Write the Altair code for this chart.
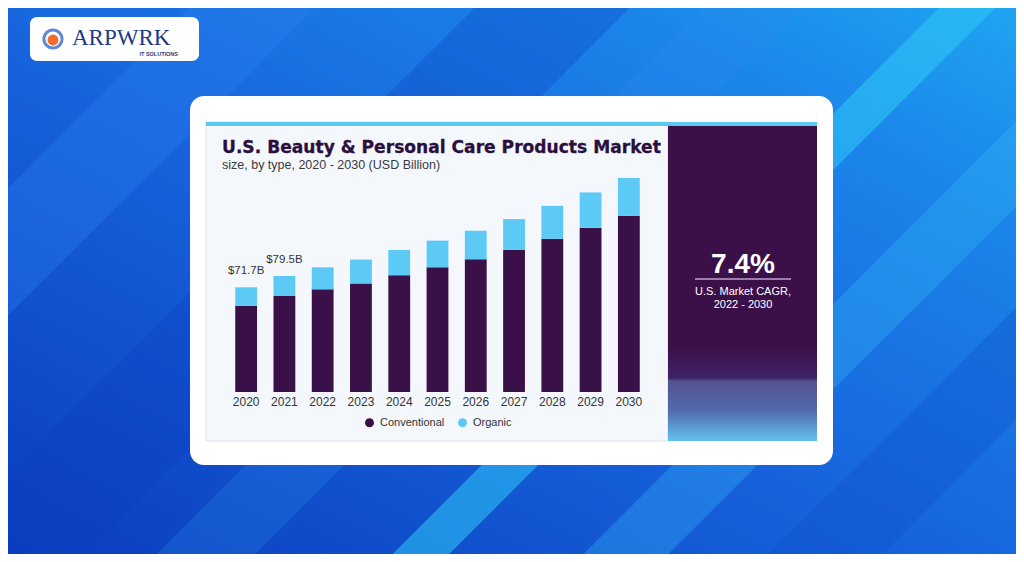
import altair as alt
import pandas as pd

# ---- data ----
years = ["2020", "2021", "2022", "2023", "2024", "2025", "2026", "2027", "2028", "2029", "2030"]
conventional = [59.1, 65.7, 70.3, 74.4, 80.0, 85.4, 90.9, 97.3, 104.9, 112.4, 120.7]
organic = [12.6, 13.8, 15.1, 16.3, 17.3, 18.3, 19.5, 21.1, 22.6, 24.3, 25.9]
labelled_years = ["2020", "2021"]
series_names = ["Conventional", "Organic"]
series_colors = ["#3a1048", "#5ccaf5"]

title_text = "U.S. Beauty & Personal Care Products Market"
subtitle_text = "size, by type, 2020 - 2030 (USD Billion)"
cagr_value = "7.4%"
cagr_lines = ["U.S. Market CAGR,", "2022 - 2030"]

rows = []
for y, c, o in zip(years, conventional, organic):
    rows.append({"year": y, "type": "Conventional", "value": c, "order": 0})
    rows.append({"year": y, "type": "Organic", "value": o, "order": 1})
df = pd.DataFrame(rows)

totals = pd.DataFrame({"year": years,
                       "total": [round(c + o, 1) for c, o in zip(conventional, organic)]})
totals["label"] = totals["total"].map(lambda t: f"${t:.1f}B")
totals = totals[totals["year"].isin(labelled_years)]

one = alt.Data(values=[{}])

W, H = 421, 219
PADL, PADT = 219, 165


def px(X):  # page x -> plot x
    return X - 8 - PADL


def py(Y):  # page y -> plot y
    return Y - 8 - PADT


def rect(x1, y1, x2, y2, color, **kw):
    return alt.Chart(one).mark_rect(color=color, **kw).encode(
        x=alt.value(px(x1)), x2=alt.value(px(x2)),
        y=alt.value(py(y1)), y2=alt.value(py(y2)))


def txt(X, Y, s, **kw):
    return alt.Chart(one).mark_text(**kw).encode(
        x=alt.value(px(X)), y=alt.value(py(Y)), text=alt.value(s))


def stripe(c, width, color, opacity):
    # 45-degree band along X + Y = c
    return alt.Chart(one).mark_rule(color=color, strokeWidth=width, opacity=opacity,
                                    strokeCap="butt").encode(
        x=alt.value(px(c - 700)), y=alt.value(py(700)),
        x2=alt.value(px(c + 100)), y2=alt.value(py(-100)))


bg = rect(0, 0, 1024, 562, alt.LinearGradient(
    gradient="linear", x1=0, y1=1, x2=1, y2=0,
    stops=[alt.GradientStop(color="#0a3cbc", offset=0),
           alt.GradientStop(color="#1762dc", offset=0.45),
           alt.GradientStop(color="#1b86ea", offset=0.8),
           alt.GradientStop(color="#1fa6f2", offset=1)]))

stripes = [
    stripe(260, 90, "#2a7ef0", 0.35),
    stripe(560, 110, "#0b3fc0", 0.30),
    stripe(975, 40, "#30c8f8", 0.55),
    stripe(1180, 60, "#35b5f5", 0.35),
    stripe(1380, 80, "#0f50cc", 0.35),
    stripe(760, 70, "#2a8af0", 0.25),
]

logo_box = rect(30, 17, 199, 61, "#ffffff", cornerRadius=7)
logo_ring = alt.Chart(one).mark_point(shape="circle", size=330, filled=False,
                                      stroke="#1d56c9", strokeWidth=3).encode(
    x=alt.value(px(53)), y=alt.value(py(39)))
logo_dot = alt.Chart(one).mark_point(shape="circle", size=120, filled=True,
                                     color="#f26a2c", opacity=1).encode(
    x=alt.value(px(53)), y=alt.value(py(40)))
logo_text = txt(72, 45, "ARPWRK", font="Liberation Serif", fontSize=23,
                color="#1c3a86", align="left", baseline="alphabetic")
logo_sub = txt(178, 55.5, "IT SOLUTIONS", font="Liberation Sans", fontSize=5.5,
               color="#1c3a86", align="right", baseline="alphabetic", fontWeight="bold")

card = rect(190, 96, 833, 465, "#ffffff", cornerRadius=14)
panel = rect(206, 122, 668, 441, "#f4f8fc", stroke="#dbe3ea", strokeWidth=1)
topbar = rect(206, 122, 817, 126, "#5cc8f2")
purple = rect(668, 126, 817, 441, alt.LinearGradient(
    gradient="linear", x1=0, y1=0, x2=0, y2=1,
    stops=[alt.GradientStop(color="#3b1049", offset=0),
           alt.GradientStop(color="#3b1049", offset=0.7),
           alt.GradientStop(color="#3f2368", offset=0.8),
           alt.GradientStop(color="#56528f", offset=0.81),
           alt.GradientStop(color="#5168ab", offset=0.9),
           alt.GradientStop(color="#62c2ee", offset=1)]))

title = txt(222, 153, title_text, font="DejaVu Sans", fontSize=17.1,
            fontWeight="bold", color="#2b0f3c", stroke="#2b0f3c", strokeWidth=0.3,
            align="left", baseline="alphabetic")
subtitle = txt(222, 168.5, subtitle_text, font="Liberation Sans", fontSize=12.5,
               color="#3a3a3a", align="left", baseline="alphabetic")

cagr = txt(743, 273, cagr_value, font="Liberation Sans", fontSize=28,
           fontWeight="bold", color="#ffffff", align="center", baseline="alphabetic")
cagr_rule = alt.Chart(one).mark_rule(color="#b8a5cc", strokeWidth=1.5).encode(
    x=alt.value(px(695)), x2=alt.value(px(791)), y=alt.value(py(279)))
cagr_l1 = txt(743, 295, cagr_lines[0], font="Liberation Sans", fontSize=11,
              color="#ffffff", align="center", baseline="alphabetic")
cagr_l2 = txt(743, 308, cagr_lines[1], font="Liberation Sans", fontSize=11,
              color="#ffffff", align="center", baseline="alphabetic")

xscale = alt.Scale(paddingInner=0.43, paddingOuter=0.215)
yscale = alt.Scale(domain=[0, 150], nice=False)

bars = alt.Chart(df).mark_bar().encode(
    x=alt.X("year:O", scale=xscale, title=None,
            axis=alt.Axis(labelAngle=0, domain=False, ticks=False, labelPadding=4,
                          labelFont="Liberation Sans", labelFontSize=12,
                          labelColor="#333333", zindex=1)),
    y=alt.Y("value:Q", stack="zero", scale=yscale, axis=None),
    order=alt.Order("order:Q", sort="ascending"),
    color=alt.Color("type:N", title=None,
                    scale=alt.Scale(domain=series_names, range=series_colors),
                    legend=alt.Legend(orient="none", direction="horizontal",
                                      legendX=px(364), legendY=py(417),
                                      symbolType="circle", symbolSize=80,
                                      symbolStrokeWidth=0, labelFont="Liberation Sans",
                                      labelFontSize=11, labelColor="#333333",
                                      columnPadding=12, labelOffset=5, padding=0)),
)

labels = alt.Chart(totals).mark_text(font="Liberation Sans", fontSize=11.5,
                                     color="#333333", dy=-16, baseline="middle").encode(
    x=alt.X("year:O", scale=xscale),
    y=alt.Y("total:Q", scale=yscale),
    text="label:N")

chart = alt.layer(
    bg, *stripes, logo_box, logo_ring, logo_dot, logo_text, logo_sub,
    card, panel, topbar, purple, title, subtitle,
    cagr, cagr_rule, cagr_l1, cagr_l2,
    bars, labels,
).properties(
    width=W, height=H,
    padding={"left": PADL, "top": PADT, "right": 1008 - PADL - W, "bottom": 546 - PADT - H},
    autosize=alt.AutoSizeParams(type="none"),
    background="#ffffff",
).configure_view(stroke=None)

chart.save("out.html", embed_options={"renderer": "svg", "actions": False})
